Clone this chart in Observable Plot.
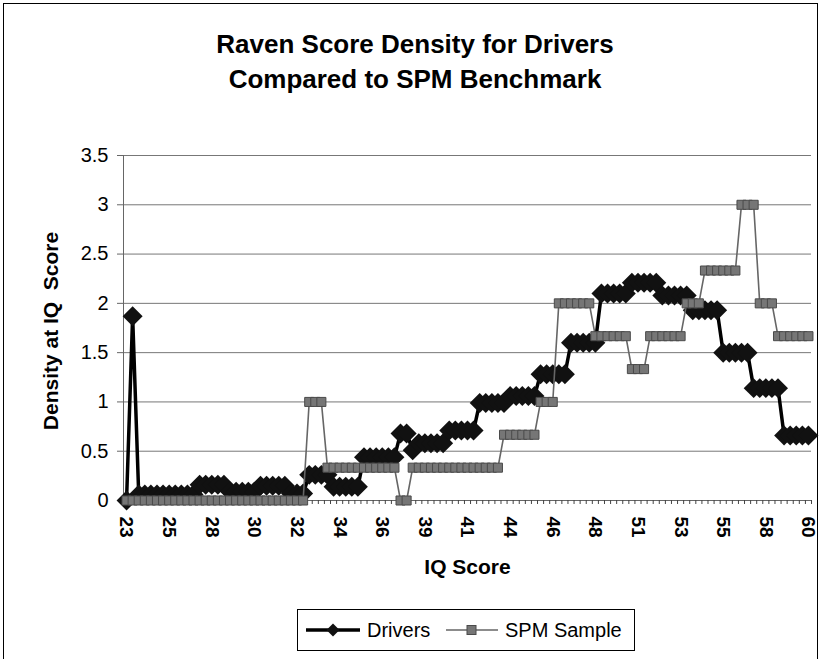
<!DOCTYPE html>
<html>
<head>
<meta charset="utf-8">
<script src="https://cdn.jsdelivr.net/npm/d3@7"></script>
<script src="https://cdn.jsdelivr.net/npm/@observablehq/plot@0.6"></script>
<style>
  html, body { margin: 0; padding: 0; background: #fff; }
  #chart { position: relative; width: 821px; height: 659px; overflow: hidden; font-family: "Liberation Sans", Arial, sans-serif; color: #000; }
  #frame { position: absolute; left: 3px; top: 3px; width: 815px; height: 700px; border-left: 1px solid #000; border-top: 1px solid #000; border-right: 1px solid #000; box-sizing: border-box; }
  #title { position: absolute; left: 0; top: 27px; width: 830px; text-align: center; font-weight: bold; font-size: 26px; line-height: 35px; }
  #plot { position: absolute; left: 0; top: 130px; }
  #legend { position: absolute; left: 297px; top: 609px; width: 338px; height: 42px; border: 1px solid #000; box-sizing: border-box; font-size: 20px; }
  #legend .item { position: absolute; top: 0; height: 40px; display: flex; align-items: center; }
  #legend svg { display: block; }
</style>
</head>
<body>
<div id="chart">
  <div id="frame"></div>
  <div id="title">Raven Score Density for Drivers<br>Compared to SPM Benchmark</div>
  <div id="plot"></div>
  <div id="legend"></div>
</div>
<script>
// IQ-score category tick labels (every 7th category shown)
const xTickLabels = ["23","25","28","30","32","34","36","39","41","44","46","48","51","53","55","58","60"];
const labelEvery = 7;
const yTickValues = [0, 0.5, 1, 1.5, 2, 2.5, 3, 3.5];
const seriesNames = ["Drivers", "SPM Sample"];

// Density values, one per category (113 categories)
const drivers = [
  0, 1.87,
  0.06, 0.06, 0.06, 0.06, 0.06, 0.06, 0.06, 0.06, 0.06, 0.06,
  0.16, 0.16, 0.16, 0.16, 0.16,
  0.09, 0.09, 0.09, 0.09, 0.09,
  0.15, 0.15, 0.15, 0.15, 0.15,
  0.07, 0.07, 0.07,
  0.26, 0.26, 0.26, 0.26,
  0.14, 0.14, 0.14, 0.14, 0.14,
  0.44, 0.44, 0.44, 0.44, 0.44, 0.44,
  0.68, 0.68,
  0.51,
  0.58, 0.58, 0.58, 0.58, 0.58,
  0.71, 0.71, 0.71, 0.71, 0.71,
  0.99, 0.99, 0.99, 0.99, 0.99,
  1.06, 1.06, 1.06, 1.06, 1.06,
  1.28, 1.28, 1.28, 1.28, 1.28,
  1.60, 1.60, 1.60, 1.60, 1.60,
  2.10, 2.10, 2.10, 2.10, 2.10,
  2.21, 2.21, 2.21, 2.21, 2.21,
  2.08, 2.08, 2.08, 2.08, 2.08,
  1.93, 1.93, 1.93, 1.93, 1.93,
  1.50, 1.50, 1.50, 1.50, 1.50,
  1.14, 1.14, 1.14, 1.14, 1.14,
  0.66, 0.66, 0.66, 0.66, 0.66
];

const spmSample = [
  0, 0, 0, 0, 0, 0, 0, 0, 0, 0,
  0, 0, 0, 0, 0, 0, 0, 0, 0, 0,
  0, 0, 0, 0, 0, 0, 0, 0, 0, 0,
  1, 1, 1,
  0.333, 0.333, 0.333, 0.333, 0.333, 0.333, 0.333, 0.333, 0.333, 0.333, 0.333, 0.333,
  0, 0,
  0.333, 0.333, 0.333, 0.333, 0.333, 0.333, 0.333, 0.333, 0.333, 0.333, 0.333, 0.333, 0.333, 0.333, 0.333,
  0.667, 0.667, 0.667, 0.667, 0.667, 0.667,
  1, 1, 1,
  2, 2, 2, 2, 2, 2,
  1.667, 1.667, 1.667, 1.667, 1.667, 1.667,
  1.333, 1.333, 1.333,
  1.667, 1.667, 1.667, 1.667, 1.667, 1.667,
  2, 2, 2,
  2.333, 2.333, 2.333, 2.333, 2.333, 2.333,
  3, 3, 3,
  2, 2, 2,
  1.667, 1.667, 1.667, 1.667, 1.667, 1.667
];

const rows = drivers.map((v, i) => ({i, drivers: v, spm: spmSample[i]}));
const n = rows.length;
const labelPositions = xTickLabels.map((_, k) => k * labelEvery);
const categoryBounds = d3.range(n + 1).map(k => k - 0.5);

const plot = Plot.plot({
  width: 821,
  height: 470,
  marginTop: 25,
  marginBottom: 100,
  marginLeft: 123,
  marginRight: 10,
  style: {fontFamily: '"Liberation Sans", Arial, sans-serif', fontSize: "20px", color: "#000", background: "transparent", overflow: "visible"},
  x: {type: "linear", domain: [-0.5, n - 0.5]},
  y: {domain: [0, 3.5]},
  marks: [
    Plot.gridY(yTickValues.filter(d => d > 0), {stroke: "#777", strokeOpacity: 1, strokeWidth: 1}),
    Plot.ruleY([0], {stroke: "#666", strokeWidth: 1}),
    Plot.ruleX([-0.5], {stroke: "#666", strokeWidth: 1}),
    Plot.axisY({ticks: yTickValues, tickSize: 6, tickPadding: 9, tickFormat: d => String(d), stroke: "#666", label: null, fontSize: 20}),
    Plot.axisX({ticks: categoryBounds, tickSize: 4, tickFormat: () => "", stroke: "#444", label: null}),
    Plot.axisX({ticks: labelPositions, tickSize: 0, tickPadding: 16, tickRotate: 90, tickFormat: d => xTickLabels[Math.round(d / labelEvery)], fontWeight: "bold", fontSize: 19, label: null}),
    Plot.text(["IQ Score"], {text: d => d, frameAnchor: "bottom", lineAnchor: "middle", textAnchor: "middle", dy: 67, fontWeight: "bold", fontSize: 21}),
    Plot.text(["Density at IQ \u00a0Score"], {text: d => d, frameAnchor: "left", lineAnchor: "middle", textAnchor: "middle", dx: -72, dy: 3, rotate: -90, fontWeight: "bold", fontSize: 21}),
    Plot.line(rows, {x: "i", y: "drivers", stroke: "#000", strokeWidth: 3.5}),
    Plot.dot(rows, {x: "i", y: "drivers", symbol: "diamond2", r: 9, fill: "#111", stroke: "none"}),
    Plot.line(rows, {x: "i", y: "spm", stroke: "#666", strokeWidth: 1.6}),
    Plot.dot(rows, {x: "i", y: "spm", symbol: "square", r: 5.1, fill: "#767676", stroke: "#4a4a4a", strokeWidth: 1})
  ]
});
document.getElementById("plot").appendChild(plot);

// Legend
const legend = document.getElementById("legend");
legend.innerHTML = `
  <div class="item" style="left:7px">
    <svg width="56" height="20"><line x1="1" y1="10" x2="55" y2="10" stroke="#000" stroke-width="3.5"/><path d="M28,3.5L34.5,10L28,16.5L21.5,10Z" fill="#111"/></svg>
    <span style="margin-left:6px">${seriesNames[0]}</span>
  </div>
  <div class="item" style="left:147px">
    <svg width="54" height="20"><line x1="1" y1="10" x2="53" y2="10" stroke="#666" stroke-width="1.6"/><rect x="22" y="5.5" width="9" height="9" fill="#767676" stroke="#4a4a4a" stroke-width="1"/></svg>
    <span style="margin-left:6px">${seriesNames[1]}</span>
  </div>`;
</script>
</body>
</html>
